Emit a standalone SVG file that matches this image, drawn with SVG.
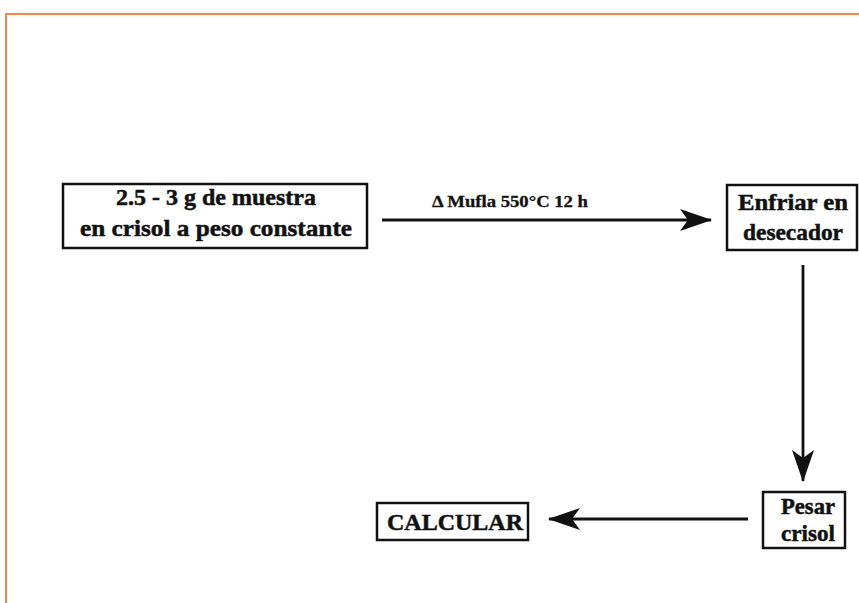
<svg xmlns="http://www.w3.org/2000/svg" width="859" height="603" viewBox="0 0 859 603">
  <style>
    .box { fill: #fff; stroke: #111; stroke-width: 2.5; }
    .lbl { font-family: "Liberation Serif", "DejaVu Serif", serif; font-weight: bold; fill: #111; stroke: #111; stroke-width: 0.5; text-anchor: middle; }
    .big { font-size: 24px; }
    .small { font-size: 16px; stroke-width: 0.3; }
    .wire { stroke: #111; stroke-width: 2.8; fill: none; }
  </style>
  <defs>
    <marker id="head" viewBox="0 0 32 22" refX="31" refY="11" markerWidth="32" markerHeight="22" markerUnits="userSpaceOnUse" orient="auto">
      <path d="M0,0 L32,11 L0,22 L8,11 Z" fill="#111"/>
    </marker>
  </defs>
  <rect width="859" height="603" fill="#fff"/>
  <!-- frame -->
  <path d="M6,603 V14 H859" fill="none" stroke="#ee8a4e" stroke-width="2"/>

  <g id="connectors">
    <line class="wire" x1="382" y1="220" x2="711" y2="220" marker-end="url(#head)"/>
    <text class="lbl small" x="510" y="207" textLength="156" lengthAdjust="spacingAndGlyphs">Δ Mufla 550°C 12 h</text>
    <line class="wire" x1="803" y1="265" x2="803" y2="481" marker-end="url(#head)"/>
    <line class="wire" x1="748" y1="519" x2="549" y2="519" marker-end="url(#head)"/>
  </g>

  <g id="muestra">
    <rect class="box" x="63" y="184" width="304" height="64"/>
    <text class="lbl big" x="216" y="205" textLength="200" lengthAdjust="spacingAndGlyphs">2.5 - 3 g de muestra</text>
    <text class="lbl big" x="216" y="236" textLength="272" lengthAdjust="spacingAndGlyphs">en crisol a peso constante</text>
  </g>

  <g id="enfriar">
    <rect class="box" x="727" y="185" width="130" height="65"/>
    <text class="lbl big" x="793" y="210" textLength="110" lengthAdjust="spacingAndGlyphs">Enfriar en</text>
    <text class="lbl big" x="793" y="240" textLength="100" lengthAdjust="spacingAndGlyphs">desecador</text>
  </g>

  <g id="pesar">
    <rect class="box" x="763" y="492" width="82" height="56"/>
    <text class="lbl big" x="808" y="514" textLength="54" lengthAdjust="spacingAndGlyphs">Pesar</text>
    <text class="lbl big" x="808" y="541" textLength="54" lengthAdjust="spacingAndGlyphs">crisol</text>
  </g>

  <g id="calcular">
    <rect class="box" x="377" y="503" width="151" height="37"/>
    <text class="lbl big" x="455" y="530" textLength="136" lengthAdjust="spacingAndGlyphs">CALCULAR</text>
  </g>
</svg>
